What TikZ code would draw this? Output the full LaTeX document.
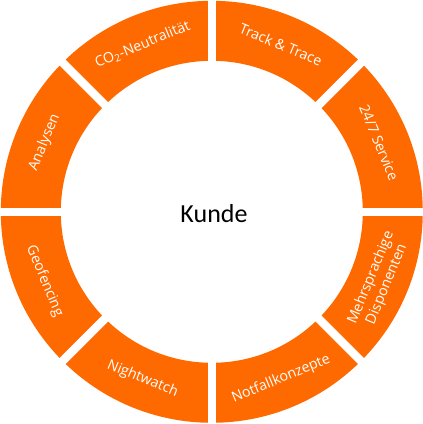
\documentclass[tikz,border=0pt]{standalone}
\usepackage{fontspec}
\setmainfont{Open Sans}
\newfontfamily\kundefont{Carlito}
\definecolor{segorange}{RGB}{255,106,0}
\begin{document}
\begin{tikzpicture}[x=1pt,y=1pt,
  seglabel/.style={text=white,font=\fontsize{14.2}{17}\selectfont,align=center,inner sep=0pt},
  gapline/.style={white,line width=8.4pt}]
\useasboundingbox (0,0) rectangle (423,424);
\fill[white] (0,0) rectangle (423,424);
\coordinate (c) at (211.8,212.2);
\fill[segorange,even odd rule] (c) circle[radius=211] (c) circle[radius=151];
\foreach \a in {0,45,90,135}{
  \draw[gapline,shift={(c)}] (\a:216) -- (\a+180:216);
}
\node[seglabel,rotate=-22.5] (l1) at ([shift={(67.5:181)}]c) {Track \& Trace};
\node[seglabel,rotate=-67.5] (l2) at ([shift={(22.5:181)}]c) {24/7 Service};
\node[seglabel,rotate=67.5] (l3) at ([shift={(-22.5:181)}]c) {Mehrsprachige\\Disponenten};
\node[seglabel,rotate=22.5] (l4) at ([shift={(-67.5:181)}]c) {Notfallkonzepte};
\node[seglabel,rotate=-22.5] (l5) at ([shift={(-112.5:181)}]c) {Nightwatch};
\node[seglabel,rotate=-67.5] (l6) at ([shift={(-157.5:181)}]c) {Geofencing};
\node[seglabel,rotate=67.5] (l7) at ([shift={(157.5:181)}]c) {Analysen};
\node[seglabel,rotate=22.5] (l8) at ([shift={(112.5:181)}]c) {CO\textsubscript{2}-Neutralität};
\node[font=\kundefont\fontsize{26}{30}\selectfont,anchor=base,text=black] (k) at (214,201) {Kunde};
\end{tikzpicture}
\end{document}
